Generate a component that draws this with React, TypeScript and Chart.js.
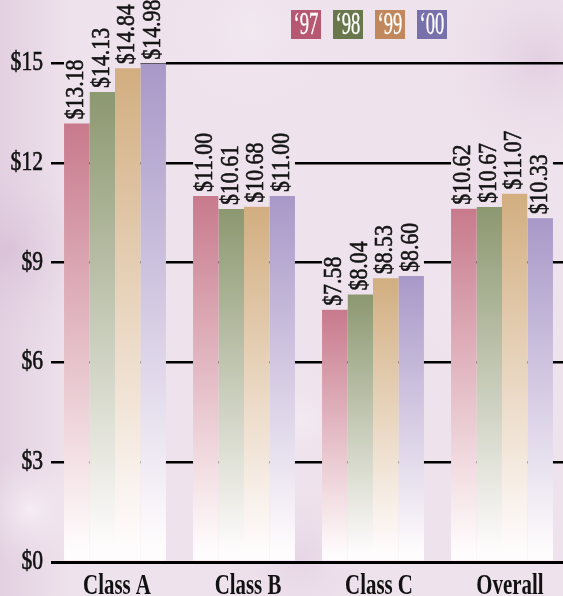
import React, { useEffect, useRef } from "react";
import { Chart, registerables } from "chart.js";

Chart.register(...registerables);

const categories = ["Class A", "Class B", "Class C", "Overall"];
const seriesNames = ["\u201897", "\u201898", "\u201899", "\u201800"];
const values97 = [13.18, 11.0, 7.58, 10.62];
const values98 = [14.13, 10.61, 8.04, 10.67];
const values99 = [14.84, 10.68, 8.53, 11.07];
const values00 = [14.98, 11.0, 8.6, 10.33];
const yTicks = [0, 3, 6, 9, 12, 15];

const seriesValues = [values97, values98, values99, values00];
const barTopColors = ["#c87a8c", "#8c9870", "#d2ae80", "#a898c8"];
const legendColors = ["#b65872", "#68784c", "#c0885c", "#7870aa"];

const W = 567;
const H = 596;
const SERIF = '"Liberation Serif", "Times New Roman", serif';

function drawBackground(ctx: CanvasRenderingContext2D) {
  ctx.save();
  ctx.fillStyle = "#eee2ec";
  ctx.fillRect(0, 0, W, H);
  const patch = (x: number, y: number, r: number, col: string) => {
    const g = ctx.createRadialGradient(x, y, 0, x, y, r);
    g.addColorStop(0, col);
    g.addColorStop(1, "rgba(238,226,236,0)");
    ctx.fillStyle = g;
    ctx.fillRect(x - r, y - r, 2 * r, 2 * r);
  };
  const lg = ctx.createLinearGradient(0, 0, 70, 0);
  lg.addColorStop(0, "rgba(205,175,205,0.35)");
  lg.addColorStop(1, "rgba(205,175,205,0)");
  ctx.fillStyle = lg;
  ctx.fillRect(0, 0, 70, H);
  patch(10, 250, 120, "rgba(200,165,200,0.35)");
  patch(540, 60, 110, "rgba(205,170,205,0.35)");
  patch(30, 510, 60, "rgba(255,250,255,0.6)");
  patch(300, 560, 90, "rgba(215,185,215,0.3)");
  patch(480, 300, 90, "rgba(248,240,246,0.5)");
  patch(250, 30, 110, "rgba(246,238,244,0.5)");
  patch(300, 420, 70, "rgba(250,244,250,0.4)");
  ctx.restore();
}

function condensedText(
  ctx: CanvasRenderingContext2D,
  text: string,
  x: number,
  y: number,
  font: string,
  sx: number,
  align: CanvasTextAlign,
  baseline: CanvasTextBaseline,
  color: string,
  rotate = false,
  stroke = 0
) {
  ctx.save();
  ctx.translate(x, y);
  if (rotate) ctx.rotate(-Math.PI / 2);
  ctx.scale(sx, 1);
  ctx.font = font;
  ctx.textAlign = align;
  ctx.textBaseline = baseline;
  ctx.fillStyle = color;
  ctx.fillText(text, 0, 0);
  if (stroke > 0) {
    ctx.strokeStyle = color;
    ctx.lineWidth = stroke;
    ctx.strokeText(text, 0, 0);
  }
  ctx.restore();
}

const VALUE_FONT = `26px ${SERIF}`;
const VALUE_SX = 0.84;

const decorPlugin = {
  id: "decor",
  beforeDraw(chart: any) {
    drawBackground(chart.ctx);
  },
  afterDatasetsDraw(chart: any) {
    const ctx: CanvasRenderingContext2D = chart.ctx;
    // mask gridlines behind value labels
    ctx.save();
    ctx.font = VALUE_FONT;
    ctx.beginPath();
    chart.data.datasets.forEach((ds: any, di: number) => {
      const meta = chart.getDatasetMeta(di);
      meta.data.forEach((bar: any, i: number) => {
        const label = "$" + ds.data[i].toFixed(2);
        const len = ctx.measureText(label).width * VALUE_SX + 8;
        ctx.rect(bar.x - bar.width / 2, bar.y - len, bar.width, len - 0.5);
      });
    });
    ctx.clip();
    drawBackground(ctx);
    ctx.restore();

    chart.data.datasets.forEach((ds: any, di: number) => {
      const meta = chart.getDatasetMeta(di);
      meta.data.forEach((bar: any, i: number) => {
        const label = "$" + ds.data[i].toFixed(2);
        condensedText(ctx, label, bar.x - 0.5, bar.y - 4, VALUE_FONT, VALUE_SX, "left", "middle", "#141414", true, 0.6);
      });
    });

    // y tick labels
    const ys = chart.scales.y;
    yTicks.forEach((v) => {
      condensedText(ctx, "$" + v, 43, ys.getPixelForValue(v), `27px ${SERIF}`, 0.8, "right", "middle", "#111", false, 0.6);
    });

    // category labels
    const xs = chart.scales.x;
    categories.forEach((c, i) => {
      condensedText(ctx, c, xs.getPixelForValue(i) + 2 + 2 * i, 594, `bold 29px ${SERIF}`, 0.72, "center", "alphabetic", "#111");
    });

    // legend
    seriesNames.forEach((name, i) => {
      const x = 291 + i * 42;
      const y = 10;
      ctx.fillStyle = legendColors[i];
      ctx.fillRect(x, y, 30, 29);
      condensedText(ctx, name, x + 15, y + 24, `31px ${SERIF}`, 0.6, "center", "alphabetic", "#ffffff", false, 0.3);
    });
  },
};

export default function App() {
  const ref = useRef<HTMLCanvasElement | null>(null);
  useEffect(() => {
    if (!ref.current) return;
    const chart = new Chart(ref.current, {
      type: "bar",
      data: {
        labels: categories,
        datasets: seriesValues.map((vals, di) => ({
          label: seriesNames[di],
          data: vals,
          borderWidth: 0,
          categoryPercentage: 0.79,
          barPercentage: 1.0,
          backgroundColor: (c: any) => {
            const col = barTopColors[di];
            const chartObj = c.chart;
            if (!chartObj.chartArea || typeof c.raw !== "number") return col;
            const y = chartObj.scales.y;
            const top = y.getPixelForValue(c.raw);
            const bottom = y.getPixelForValue(0);
            const g = chartObj.ctx.createLinearGradient(0, top, 0, bottom);
            g.addColorStop(0, col);
            g.addColorStop(0.97, "#fffcfd");
            g.addColorStop(1, "#fffcfd");
            return g;
          },
        })),
      },
      options: {
        responsive: false,
        animation: false,
        events: [],
        layout: { padding: { left: 50.5, right: 0.5, top: 63, bottom: 34 } },
        plugins: { legend: { display: false }, tooltip: { enabled: false } },
        scales: {
          x: { display: false },
          y: {
            min: 0,
            max: 15,
            border: { display: false },
            ticks: { display: false, stepSize: 3 },
            grid: {
              drawTicks: false,
              color: "#000",
              lineWidth: (c: any) => (c.tick && c.tick.value === 0 ? 3 : 2.5),
            },
          },
        },
      },
      plugins: [decorPlugin],
    });
    return () => chart.destroy();
  }, []);
  return (
    <div style={{ position: "fixed", left: 0, top: 0, width: 563, height: 596, overflow: "hidden" }}>
      <canvas ref={ref} width={W} height={H} style={{ display: "block", width: W, height: H }} />
    </div>
  );
}
